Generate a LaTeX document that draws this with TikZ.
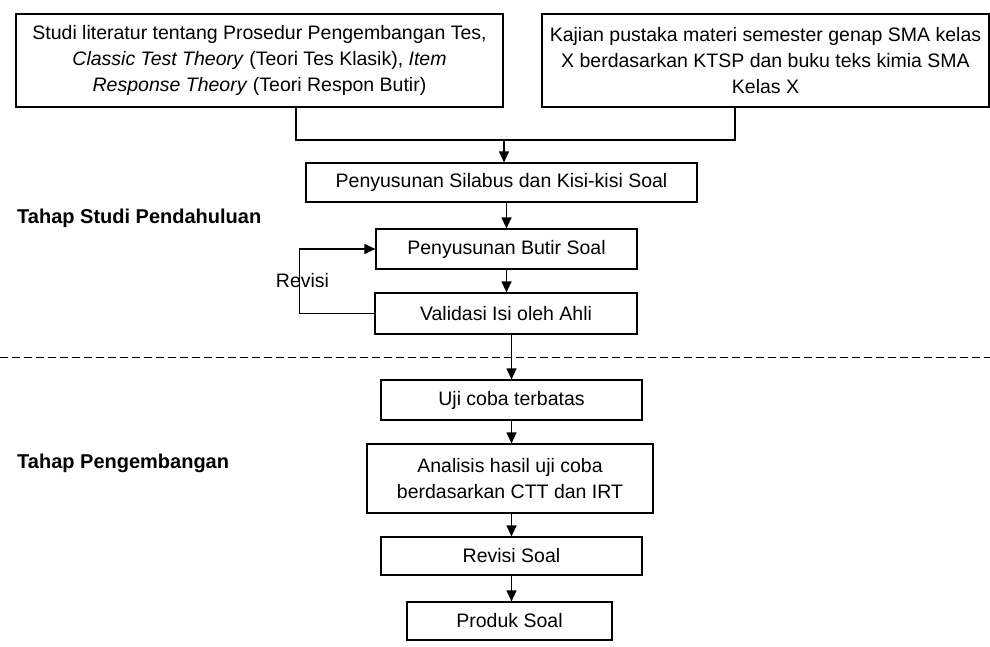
\documentclass[tikz,border=0pt]{standalone}
\usepackage{fontspec}
\setmainfont{Liberation Sans}
\usetikzlibrary{arrows.meta}

\tikzset{
  box/.style={draw, line width=1.2pt, inner sep=0pt, align=center,
    font=\fontsize{19.5}{26}\selectfont},
  arr/.style={line width=1.2pt, -{Triangle[length=11pt,width=10pt]}},
  conn/.style={line width=1.2pt},
  phase/.style={anchor=west, inner sep=0pt, font=\fontsize{20}{24}\selectfont\bfseries},
}

\begin{document}
\begin{tikzpicture}[x=1pt,y=-1pt]
    \useasboundingbox (0,0) rectangle (990,646);

    % studi pendahuluan
    \node[box, minimum width=487pt, minimum height=93pt] (lit) at (259.5,60.5)
      {Studi literatur tentang Prosedur Pengembangan Tes,\\
       \textit{Classic Test Theory} (Teori Tes Klasik), \textit{Item}\\
       \textit{Response Theory} (Teori Respon Butir)};
    \node[box, minimum width=447pt, minimum height=93pt] (kaj) at (765.5,60.5)
      {Kajian pustaka materi semester genap SMA kelas\\
       X berdasarkan KTSP dan buku teks kimia SMA\\
       Kelas X};
    \node[box, minimum width=391pt, minimum height=39pt] (sil) at (501.5,182.5)
      {Penyusunan Silabus dan Kisi-kisi Soal};
    \node[box, minimum width=261pt, minimum height=40pt] (but) at (506.5,249)
      {Penyusunan Butir Soal};
    \node[box, minimum width=262pt, minimum height=41pt] (val) at (506,313.5)
      {Validasi Isi oleh Ahli};

    % pengembangan
    \node[box, minimum width=261pt, minimum height=40pt] (uji) at (511.5,400)
      {Uji coba terbatas};
    \node[box, minimum width=286pt, minimum height=69pt] (ana) at (510,478.5)
      {Analisis hasil uji coba\\ berdasarkan CTT dan IRT};
    \node[box, minimum width=261pt, minimum height=38pt] (rev) at (511.5,556)
      {Revisi Soal};
    \node[box, minimum width=205pt, minimum height=38pt] (pro) at (509.5,621)
      {Produk Soal};

    \node[phase] (tsp) at (17,218) {Tahap Studi Pendahuluan};
    \node[phase] (tpg) at (17,463) {Tahap Pengembangan};
    \node[font=\fontsize{19.5}{24}\selectfont, inner sep=0pt] (rvs) at (302.5,281) {Revisi};

    % gabungan
    \coordinate (jl) at (296,140);
    \coordinate (jr) at (735,140);
    \coordinate (jm) at (504,140);
    \draw[conn] (lit.south -| jl) -- (jl) -- (jr) -- (kaj.south -| jr);
    \draw[arr] (jm) -- (jm |- sil.north);

    \draw[arr] (but.north |- sil.south) -- (but.north);
    \draw[arr] (but.south) -- (but.south |- val.north);
    \draw[arr] (val.west) -- ++(-75,0) |- (but.west);

    \coordinate (dl) at (0,357);
    \coordinate (dr) at (990,357);
    \draw[line width=1pt, dash pattern=on 8pt off 4pt] (dl) -- (dr);

    \draw[arr] (uji.north |- val.south) -- (uji.north);
    \draw[arr] (uji.south) -- (uji.south |- ana.north);
    \draw[arr] (rev.north |- ana.south) -- (rev.north);
    \draw[arr] (rev.south) -- (rev.south |- pro.north);
\end{tikzpicture}
\end{document}
